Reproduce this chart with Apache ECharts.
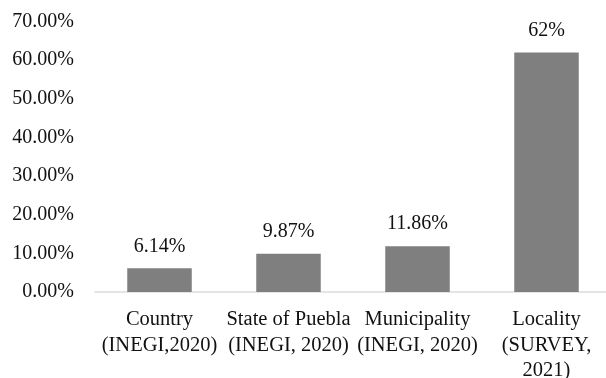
<!DOCTYPE html>
<html>
<head>
<meta charset="utf-8">
<script src="https://cdn.jsdelivr.net/npm/echarts@6/dist/echarts.min.js"></script>
<style>
  html, body { margin: 0; padding: 0; background: #fff; }
  #chart { width: 606px; height: 378px; }
</style>
</head>
<body>
<div id="chart"></div>
<script>
// Share of population by geographic level (percent)
const categories = [
  'Country\n(INEGI,2020)',
  'State of Puebla\n(INEGI, 2020)',
  'Municipality\n(INEGI, 2020)',
  'Locality\n(SURVEY,\n2021)'
];
const values = [6.14, 9.87, 11.86, 62];
const valueLabels = ['6.14%', '9.87%', '11.86%', '62%'];

const font = '"Liberation Serif", "Times New Roman", serif';

const chart = echarts.init(document.getElementById('chart'));
chart.setOption({
  animation: false,
  grid: {
    left: 95, top: 21.5, width: 516, height: 270.5,
    containLabel: false,
    outerBoundsMode: 'none'
  },
  xAxis: {
    type: 'category',
    data: categories,
    axisLine: { show: true, lineStyle: { color: '#d9dce2', width: 1.5 } },
    axisTick: { show: false },
    axisLabel: {
      interval: 0,
      margin: 15,
      color: '#111',
      fontFamily: font,
      fontSize: 20.5,
      lineHeight: 25.5
    }
  },
  yAxis: {
    type: 'value',
    min: 0,
    max: 70,
    interval: 10,
    splitLine: { show: false },
    axisLine: { show: false },
    axisTick: { show: false },
    axisLabel: {
      margin: 21,
      color: '#111',
      fontFamily: font,
      fontSize: 20,
      formatter: v => v.toFixed(2) + '%'
    }
  },
  series: [{
    type: 'bar',
    data: values,
    barCategoryGap: '50%',
    itemStyle: { color: '#7f7f7f' },
    label: {
      show: true,
      position: 'top',
      distance: 12,
      color: '#111',
      fontFamily: font,
      fontSize: 20,
      formatter: p => valueLabels[p.dataIndex]
    }
  }]
});
</script>
</body>
</html>
